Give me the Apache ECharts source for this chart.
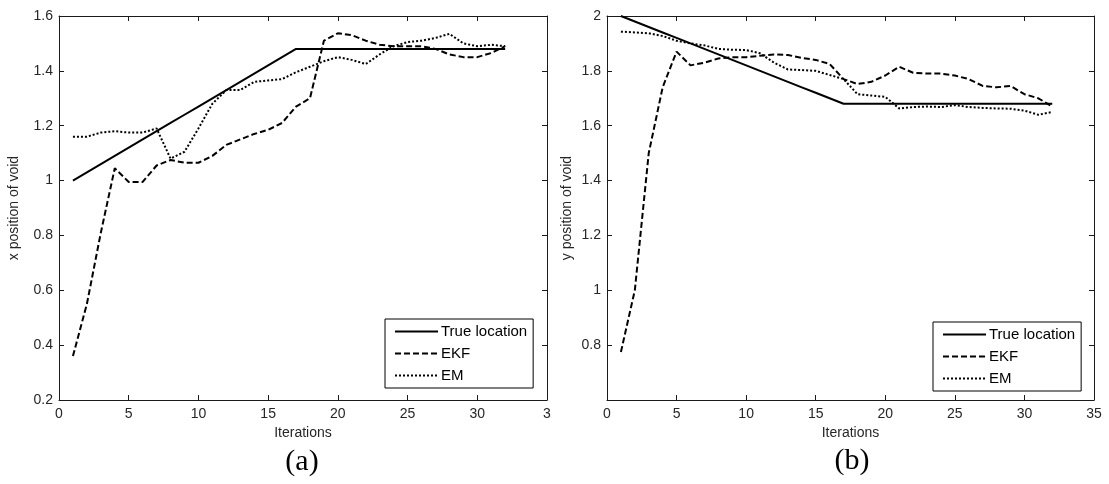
<!DOCTYPE html>
<html>
<head>
<meta charset="utf-8">
<title>Void position estimates</title>
<script src="https://cdn.jsdelivr.net/npm/echarts@6/dist/echarts.min.js"></script>
<style>
  html, body { margin: 0; padding: 0; background: #ffffff; }
  #chart { width: 1109px; height: 484px; }
</style>
</head>
<body>
<div id="chart"></div>
<script>
// Iteration index shared by both panels
const iterations = [1, 2, 3, 4, 5, 6, 7, 8, 9, 10, 11, 12, 13, 14, 15, 16,
                    17, 18, 19, 20, 21, 22, 23, 24, 25, 26, 27, 28, 29, 30, 31, 32];

// Panel (a): x position of the void
const xTrue = [1.00, 1.03, 1.06, 1.09, 1.12, 1.15, 1.18, 1.21, 1.24, 1.27, 1.30, 1.33, 1.36, 1.39, 1.42, 1.45,
               1.48, 1.48, 1.48, 1.48, 1.48, 1.48, 1.48, 1.48, 1.48, 1.48, 1.48, 1.48, 1.48, 1.48, 1.48, 1.48];
const xEKF  = [0.36, 0.55, 0.81, 1.045, 0.995, 0.995, 1.055, 1.075, 1.065, 1.065, 1.09, 1.13, 1.15, 1.17, 1.185, 1.21,
               1.27, 1.30, 1.51, 1.537, 1.53, 1.51, 1.495, 1.49, 1.49, 1.49, 1.48, 1.46, 1.45, 1.45, 1.465, 1.49];
const xEM   = [1.16, 1.16, 1.175, 1.18, 1.175, 1.175, 1.19, 1.08, 1.105, 1.19, 1.28, 1.33, 1.33, 1.36, 1.365, 1.37,
               1.395, 1.415, 1.435, 1.45, 1.44, 1.425, 1.46, 1.49, 1.505, 1.51, 1.52, 1.535, 1.50, 1.49, 1.495, 1.49];

// Panel (b): y position of the void
const yTrue = [2.00, 1.98, 1.96, 1.94, 1.92, 1.90, 1.88, 1.86, 1.84, 1.82, 1.80, 1.78, 1.76, 1.74, 1.72, 1.70,
               1.68, 1.68, 1.68, 1.68, 1.68, 1.68, 1.68, 1.68, 1.68, 1.68, 1.68, 1.68, 1.68, 1.68, 1.68, 1.68];
const yEKF  = [0.775, 1.00, 1.50, 1.74, 1.87, 1.82, 1.83, 1.845, 1.85, 1.85, 1.855, 1.86, 1.858, 1.847, 1.84, 1.825,
               1.77, 1.752, 1.76, 1.783, 1.815, 1.793, 1.79, 1.79, 1.783, 1.77, 1.745, 1.74, 1.745, 1.715, 1.70, 1.67];
const yEM   = [1.943, 1.94, 1.937, 1.927, 1.91, 1.90, 1.893, 1.88, 1.877, 1.876, 1.864, 1.83, 1.805, 1.803, 1.80, 1.785,
               1.77, 1.715, 1.71, 1.705, 1.663, 1.668, 1.67, 1.668, 1.675, 1.668, 1.665, 1.663, 1.662, 1.655, 1.64, 1.65];

const seriesNames = ['True location', 'EKF', 'EM'];
const panelLabels = ['(a)', '(b)'];
const yAxisNames = ['x position of void', 'y position of void'];
const xAxisName = 'Iterations';

const FONT = '"Liberation Sans", Arial, Helvetica, sans-serif';
const AXIS_COLOR = '#1a1a1a';
const LABEL_COLOR = '#262626';

const pairs = (vals) => iterations.map((it, i) => [it, vals[i]]);
const trimNum = (v) => String(Number(v.toFixed(1)));

// Line styles: solid, dashed, dotted (all black)
const styles = [
  { type: 'solid', width: 2 },
  { type: [6, 3], width: 2 },
  { type: [2, 2], width: 2 }
];

function mainX(grid, labelFmt) {
  return {
    gridIndex: grid, type: 'value', position: 'bottom',
    min: 0, max: 35, interval: 5,
    name: xAxisName, nameLocation: 'middle', nameGap: 25,
    nameTextStyle: { fontFamily: FONT, fontSize: 14, color: LABEL_COLOR },
    axisLine: { show: true, onZero: false, lineStyle: { color: AXIS_COLOR, width: 1 } },
    axisTick: { show: true, inside: true, length: 5, lineStyle: { color: AXIS_COLOR } },
    axisLabel: { show: true, margin: 7, fontFamily: FONT, fontSize: 14, color: LABEL_COLOR,
                 formatter: labelFmt, showMinLabel: true, showMaxLabel: true },
    splitLine: { show: false }
  };
}
function boxX(grid) {
  return {
    gridIndex: grid, type: 'value', position: 'top',
    min: 0, max: 35, interval: 5,
    axisLine: { show: true, onZero: false, lineStyle: { color: AXIS_COLOR, width: 1 } },
    axisTick: { show: true, inside: true, length: 5, lineStyle: { color: AXIS_COLOR } },
    axisLabel: { show: false },
    splitLine: { show: false }
  };
}
function mainY(grid, min, max, name, gap, labelFmt) {
  return {
    gridIndex: grid, type: 'value', position: 'left',
    min: min, max: max, interval: 0.2,
    name: name, nameLocation: 'middle', nameRotate: 90, nameGap: gap,
    nameTextStyle: { fontFamily: FONT, fontSize: 14, color: LABEL_COLOR },
    axisLine: { show: true, onZero: false, lineStyle: { color: AXIS_COLOR, width: 1 } },
    axisTick: { show: true, inside: true, length: 5, lineStyle: { color: AXIS_COLOR } },
    axisLabel: { show: true, margin: 6, fontFamily: FONT, fontSize: 14, color: LABEL_COLOR,
                 formatter: labelFmt, showMinLabel: true, showMaxLabel: true },
    splitLine: { show: false }
  };
}
function boxY(grid, min, max) {
  return {
    gridIndex: grid, type: 'value', position: 'right',
    min: min, max: max, interval: 0.2,
    axisLine: { show: true, onZero: false, lineStyle: { color: AXIS_COLOR, width: 1 } },
    axisTick: { show: true, inside: true, length: 5, lineStyle: { color: AXIS_COLOR } },
    axisLabel: { show: false },
    splitLine: { show: false }
  };
}

function lineSeries(name, vals, styleIdx, axisIdx) {
  return {
    name: name, type: 'line', data: pairs(vals),
    xAxisIndex: axisIdx, yAxisIndex: axisIdx,
    symbol: 'none', smooth: false, animation: false,
    lineStyle: Object.assign({ color: '#000000' }, styles[styleIdx]),
    itemStyle: { color: '#000000' },
    z: 3 - styleIdx
  };
}

// Legend keys show only the line sample (no marker)
function legendAt(left, top) {
  return {
    orient: 'vertical', left: left, top: top,
    data: seriesNames,
    itemWidth: 43, itemHeight: 14, itemGap: 7,
    padding: [5, 6, 5, 9],
    backgroundColor: '#ffffff',
    borderColor: '#000000', borderWidth: 1, borderRadius: 0,
    selectedMode: false,
    itemStyle: { color: 'rgba(0,0,0,0)', borderWidth: 0, opacity: 0 },
    textStyle: { fontFamily: FONT, fontSize: 15, lineHeight: 15, color: '#000000', padding: [0, 0, 0, -2] }
  };
}

const option = {
  backgroundColor: '#ffffff',
  animation: false,
  grid: [
    { left: 59, top: 16, width: 488, height: 384, containLabel: false },
    { left: 607, top: 16, width: 487, height: 384, containLabel: false }
  ],
  xAxis: [
    // the right-most label of panel (a) is cut by the neighbouring panel
    mainX(0, (v) => (v === 35 ? '3' : String(v))),
    boxX(0),
    mainX(1, (v) => String(v)),
    boxX(1)
  ],
  yAxis: [
    mainY(0, 0.2, 1.6, yAxisNames[0], 38, trimNum),
    boxY(0, 0.2, 1.6),
    mainY(1, 0.6, 2.0, yAxisNames[1], 33, (v) => (Math.abs(v - 0.6) < 1e-9 ? '' : trimNum(v))),
    boxY(1, 0.6, 2.0)
  ],
  legend: [legendAt(385, 319), legendAt(933, 322)],
  series: [
    lineSeries(seriesNames[0], xTrue, 0, 0),
    lineSeries(seriesNames[1], xEKF, 1, 0),
    lineSeries(seriesNames[2], xEM, 2, 0),
    lineSeries(seriesNames[0], yTrue, 0, 2),
    lineSeries(seriesNames[1], yEKF, 1, 2),
    lineSeries(seriesNames[2], yEM, 2, 2)
  ],
  graphic: [
    { type: 'text', x: 302, y: 462, style: { text: panelLabels[0], align: 'center', verticalAlign: 'middle',
      font: '30px "Liberation Serif", "Times New Roman", serif', fill: '#000000' } },
    { type: 'text', x: 852, y: 461, style: { text: panelLabels[1], align: 'center', verticalAlign: 'middle',
      font: '30px "Liberation Serif", "Times New Roman", serif', fill: '#000000' } }
  ]
};

const chart = echarts.init(document.getElementById('chart'), null, { renderer: 'canvas' });
chart.setOption(option);
</script>
</body>
</html>
